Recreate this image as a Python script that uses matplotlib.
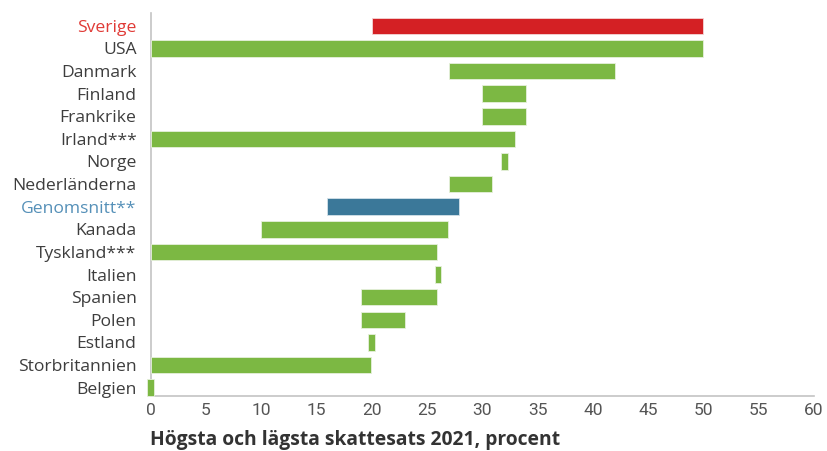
import matplotlib
matplotlib.use("Agg")
import matplotlib.pyplot as plt
from matplotlib import font_manager

countries = ["Sverige", "USA", "Danmark", "Finland", "Frankrike", "Irland***",
             "Norge", "Nederländerna", "Genomsnitt**", "Kanada", "Tyskland***",
             "Italien", "Spanien", "Polen", "Estland", "Storbritannien", "Belgien"]
lowest = [20.0, 0.0, 27.0, 30.0, 30.0, 0.0, 31.7, 27.0, 16.0, 10.0, 0.0,
          25.7, 19.0, 19.0, 19.7, 0.0, -0.3]
highest = [50.0, 50.0, 42.0, 34.0, 34.0, 33.0, 32.3, 30.9, 27.9, 26.9, 25.9,
           26.3, 25.9, 23.0, 20.3, 19.9, 0.3]
xticks = list(range(0, 61, 5))
xlabel = "Högsta och lägsta skattesats 2021, procent"

GREEN = "#7cb843"
RED = "#d42024"
BLUE = "#3b7899"
TEXT = "#3d3d3d"
special = {"Sverige": (RED, "#e03a36"), "Genomsnitt**": (BLUE, "#5590b8")}

available = {f.name for f in font_manager.fontManager.ttflist}
num_font = "Liberation Sans Narrow" if "Liberation Sans Narrow" in available else "Roboto"

fig = plt.figure(figsize=(8.27, 4.51), dpi=100)
W, H = 827, 451
left, right, top, bottom = 150.5, 814, 12.7, 396
ax = fig.add_axes([left / W, 1 - bottom / H, (right - left) / W, (bottom - top) / H])

ypos = list(range(len(countries)))
for y, name, lo, hi in zip(ypos, countries, lowest, highest):
    color = special.get(name, (GREEN, TEXT))[0]
    ax.barh(y, hi - lo, left=lo, height=0.73, color=color,
            edgecolor="#e6f0dc" if color == GREEN else "#f3d6d6" if color == RED else "#d4e2ea",
            linewidth=0.6, zorder=3, clip_on=False)

ax.set_xlim(0, 60)
ax.set_ylim(len(countries) - 1 + 0.37, -0.58)
ax.set_yticks(ypos)
ax.set_yticklabels(countries, fontfamily="Open Sans", fontsize=12.6)
for lbl, name in zip(ax.get_yticklabels(), countries):
    lbl.set_color(special.get(name, (GREEN, TEXT))[1])

ax.set_xticks(xticks)
ax.set_xticklabels([str(t) for t in xticks], fontfamily=num_font, fontsize=12.5, color="#555555")
ax.tick_params(axis="both", length=0)
ax.tick_params(axis="y", pad=10)
ax.tick_params(axis="x", pad=5)

for side in ("top", "right"):
    ax.spines[side].set_visible(False)
for side in ("left", "bottom"):
    ax.spines[side].set_color("#c4c4c4")
    ax.spines[side].set_linewidth(1.2)

fig.text(left / W, 1 - 440 / H, xlabel, fontfamily="Open Sans", fontweight="bold",
         fontsize=13.9, color="#333333", ha="left", va="center")

fig.savefig("out.png", dpi=100, facecolor="white")
